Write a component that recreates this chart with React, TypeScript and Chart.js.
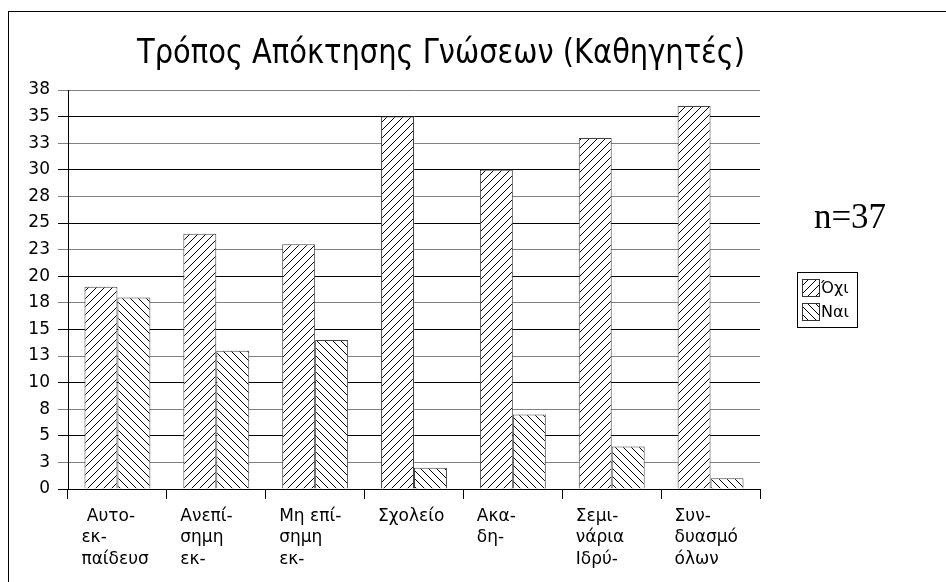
import React, { useEffect, useRef } from 'react';
import { Chart, registerables } from 'chart.js';

Chart.register(...registerables);

const categories: string[][] = [
  [' Αυτο-', 'εκ-', 'παίδευσ'],
  ['Ανεπί-', 'σημη', 'εκ-'],
  ['Μη επί-', 'σημη', 'εκ-'],
  ['Σχολείο'],
  ['Ακα-', 'δη-'],
  ['Σεμι-', 'νάρια', 'Ιδρύ-'],
  ['Συν-', 'δυασμό', 'όλων'],
];
const seriesNames = ['Όχι', 'Ναι'];
const ochiValues = [19, 24, 23, 35, 30, 33, 36];
const naiValues = [18, 13, 14, 2, 7, 4, 1];
const yMin = 0;
const yMax = 37.5;
const yStep = 2.5;
const titleText = 'Τρόπος Απόκτησης Γνώσεων (Καθηγητές)';
const noteText = 'n=37';

const SANS = '"DejaVu Sans", Verdana, sans-serif';

function makeHatch(forward: boolean): CanvasPattern {
  const c = document.createElement('canvas');
  c.width = 8;
  c.height = 8;
  const g = c.getContext('2d')!;
  g.fillStyle = '#ffffff';
  g.fillRect(0, 0, 8, 8);
  g.strokeStyle = '#000000';
  g.lineWidth = 1;
  g.beginPath();
  if (forward) {
    g.moveTo(-1, 9); g.lineTo(9, -1);
    g.moveTo(-1, 1); g.lineTo(1, -1);
    g.moveTo(7, 9); g.lineTo(9, 7);
  } else {
    g.moveTo(-1, -1); g.lineTo(9, 9);
    g.moveTo(-1, 7); g.lineTo(1, 9);
    g.moveTo(7, -1); g.lineTo(9, 1);
  }
  g.stroke();
  return g.createPattern(c, 'repeat')!;
}

export default function App() {
  const ref = useRef<HTMLCanvasElement | null>(null);

  useEffect(() => {
    if (!ref.current) return;
    const fwd = makeHatch(true);
    const back = makeHatch(false);
    const patterns = [fwd, back];

    const decor = {
      id: 'decor',
      beforeDraw(chart: any) {
        const ctx = chart.ctx as CanvasRenderingContext2D;
        ctx.save();
        ctx.fillStyle = '#ffffff';
        ctx.fillRect(0, 0, chart.width, chart.height);
        ctx.strokeStyle = '#000000';
        ctx.lineWidth = 1;
        ctx.strokeRect(8.5, 11.5, 960, 600);
        ctx.restore();
      },
      afterDraw(chart: any) {
        const ctx = chart.ctx as CanvasRenderingContext2D;
        ctx.save();
        // title (slightly condensed to match the reference width)
        ctx.fillStyle = '#000000';
        ctx.font = '34px "DejaVu Sans", sans-serif';
        ctx.textAlign = 'center';
        ctx.textBaseline = 'alphabetic';
        const w = ctx.measureText(titleText).width;
        const sx = w > 0 ? 608 / w : 1;
        ctx.save();
        ctx.translate(441, 63);
        ctx.scale(sx, 1);
        ctx.fillText(titleText, 0, 0);
        ctx.restore();
        // note
        ctx.font = '35px "Liberation Serif", "Times New Roman", serif';
        ctx.fillText(noteText, 850, 228);
        // legend
        ctx.lineWidth = 1;
        ctx.strokeStyle = '#000000';
        ctx.strokeRect(797.5, 272.5, 60, 55);
        ctx.font = '16px ' + SANS;
        ctx.textAlign = 'left';
        ctx.textBaseline = 'middle';
        seriesNames.forEach((name, i) => {
          const y = 279 + i * 24;
          ctx.fillStyle = patterns[i];
          ctx.fillRect(802, y, 18, 18);
          ctx.strokeStyle = '#333333';
          ctx.strokeRect(802.5, y + 0.5, 17, 17);
          ctx.fillStyle = '#000000';
          ctx.fillText(name, 821, y + 10);
        });
        ctx.restore();
      },
    };

    const chart = new Chart(ref.current, {
      type: 'bar',
      data: {
        labels: categories,
        datasets: [
          {
            label: seriesNames[0],
            data: ochiValues,
            backgroundColor: fwd,
            borderColor: '#444444',
            borderWidth: 1,
            barPercentage: 1,
            categoryPercentage: 2 / 3,
          },
          {
            label: seriesNames[1],
            data: naiValues,
            backgroundColor: back,
            borderColor: '#444444',
            borderWidth: 1,
            barPercentage: 1,
            categoryPercentage: 2 / 3,
          },
        ],
      },
      options: {
        responsive: false,
        animation: false,
        devicePixelRatio: 1,
        layout: { padding: { left: 0, top: 90, right: 186, bottom: 0 } },
        plugins: {
          legend: { display: false },
          title: { display: false },
          tooltip: { enabled: false },
        },
        scales: {
          x: {
            grid: {
              offset: true,
              drawOnChartArea: false,
              drawTicks: true,
              tickLength: 10,
              color: '#000000',
            },
            border: { color: '#000000', width: 1 },
            ticks: {
              align: 'start',
              labelOffset: -36,
              padding: 7,
              maxRotation: 0,
              autoSkip: false,
              color: '#000000',
              font: { family: SANS, size: 17, lineHeight: 1.25 },
            },
            afterFit: (s: any) => {
              s.height = 93;
            },
          },
          y: {
            min: yMin,
            max: yMax,
            ticks: {
              stepSize: yStep,
              padding: 8,
              color: '#000000',
              font: { family: SANS, size: 17 },
              callback: (v: any) => String(Math.round(Number(v))),
            },
            grid: {
              tickLength: 10,
              color: (c: any) =>
                c.tick && Math.abs(c.tick.value % 5) < 1e-6 ? '#000000' : '#808080',
            },
            border: { color: '#000000', width: 1 },
            afterFit: (s: any) => {
              s.width = 68;
            },
          },
        },
      },
      plugins: [decor],
    } as any);

    return () => chart.destroy();
  }, []);

  return (
    <div style={{ position: 'fixed', left: 0, top: 0, width: 946, height: 582, background: '#fff' }}>
      <canvas ref={ref} width={946} height={582} style={{ display: 'block', width: 946, height: 582 }} />
    </div>
  );
}
